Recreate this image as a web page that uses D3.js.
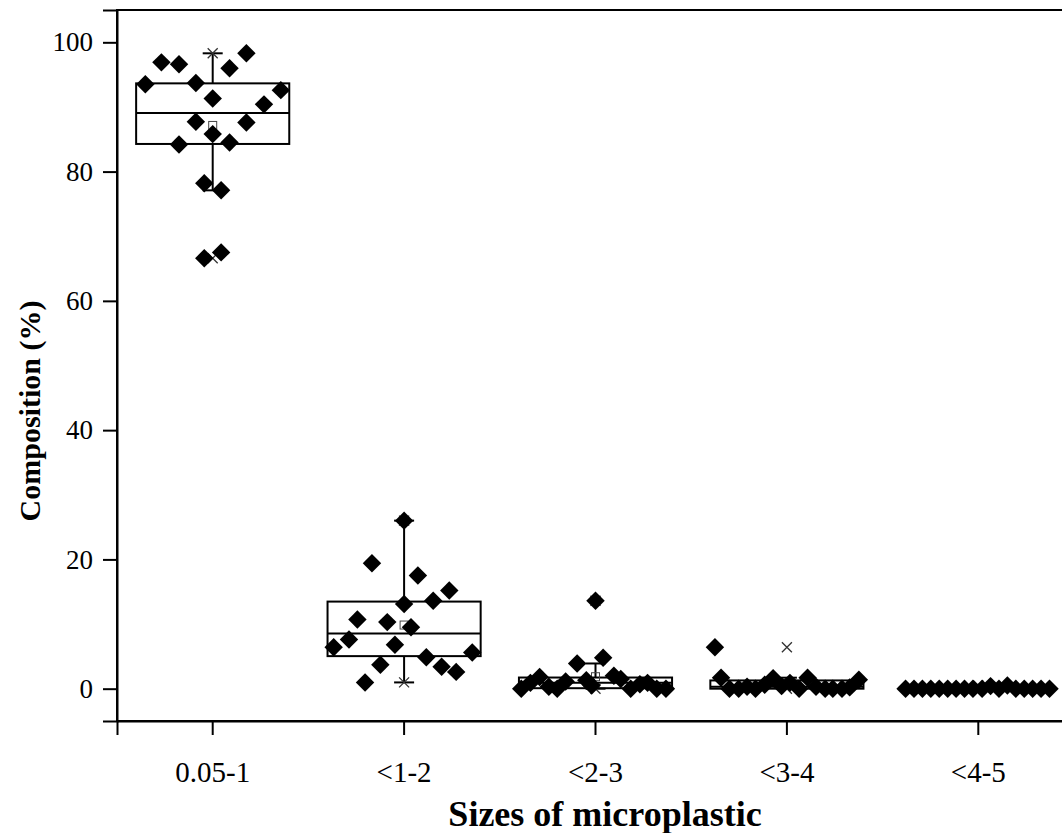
<!DOCTYPE html>
<html>
<head>
<meta charset="utf-8">
<script src="https://cdn.jsdelivr.net/npm/d3@7"></script>
<style>
  html, body { margin: 0; padding: 0; background: #fff; }
  svg { display: block; }
  text { font-family: "Liberation Serif", "Times New Roman", serif; fill: #000; }
</style>
</head>
<body>
<svg id="chart" width="1062" height="833"></svg>
<script>
// ---- data ----
const categories = ["0.05-1", "<1-2", "<2-3", "<3-4", "<4-5"];
const yTicks = [0, 20, 40, 60, 80, 100];

const values1 = [93.5, 96.9, 96.6, 93.7, 91.3, 96.0, 98.3, 87.7, 85.8, 84.2, 84.5, 87.6, 90.4, 92.6, 78.2, 77.1, 66.6, 67.5];
const jitter1 = [-0.88, -0.67, -0.44, -0.22, 0, 0.22, 0.44, -0.22, 0, -0.44, 0.22, 0.44, 0.67, 0.89, -0.11, 0.11, -0.11, 0.11];

const values2 = [26.0, 19.4, 17.5, 15.2, 13.6, 13.1, 10.7, 10.3, 9.5, 7.6, 6.4, 6.8, 5.6, 4.85, 3.7, 3.4, 2.6, 0.97];
const jitter2 = [0, -0.42, 0.18, 0.59, 0.38, 0, -0.61, -0.22, 0.09, -0.72, -0.92, -0.12, 0.89, 0.29, -0.31, 0.49, 0.68, -0.51];

const values3 = [0, 0.9, 1.8, 0.3, 0, 1.1, 3.9, 1.3, 0.5, 13.6, 4.8, 2.0, 1.5, 0, 0.7, 0.9, 0, 0];
const jitter3 = [-0.97, -0.85, -0.73, -0.61, -0.50, -0.39, -0.24, -0.12, -0.05, 0, 0.10, 0.24, 0.33, 0.46, 0.58, 0.68, 0.80, 0.92];

const values4 = [6.4, 1.7, 0, 0, 0.3, 0, 0.6, 1.6, 0.4, 0.9, 0, 1.7, 0.3, 0, 0, 0, 0.2, 1.4];
const jitter4 = [-0.94, -0.86, -0.75, -0.63, -0.52, -0.41, -0.29, -0.18, -0.07, 0.04, 0.16, 0.27, 0.38, 0.50, 0.60, 0.72, 0.82, 0.94];

const values5 = [0, 0, 0, 0, 0, 0, 0, 0, 0, 0, 0.4, 0, 0.5, 0, 0, 0, 0, 0];
const jitter5 = [-0.95, -0.84, -0.73, -0.62, -0.51, -0.40, -0.29, -0.18, -0.07, 0.05, 0.16, 0.27, 0.38, 0.49, 0.60, 0.71, 0.82, 0.93];

const groups = [
  { cat: categories[0], values: values1, jitter: jitter1 },
  { cat: categories[1], values: values2, jitter: jitter2 },
  { cat: categories[2], values: values3, jitter: jitter3 },
  { cat: categories[3], values: values4, jitter: jitter4 },
  { cat: categories[4], values: values5, jitter: jitter5 }
];

(function () {
  const svg = d3.select("#chart");
  const pL = 117, pR = 1074, pT = 10, pB = 721;
  const serif = '"Liberation Serif", "Times New Roman", serif';

  const x = d3.scaleBand().domain(categories).range([pL, pR]).paddingInner(0).paddingOuter(0);
  const y = d3.scaleLinear().domain([-5, 105]).range([pB, pT]);

  const boxW = x.bandwidth() * 0.8;
  const half = boxW / 2;

  // frame
  svg.append("rect")
    .attr("x", pL).attr("y", pT)
    .attr("width", pR - pL).attr("height", pB - pT)
    .attr("fill", "none").attr("stroke", "#000").attr("stroke-width", 2);

  // y axis
  const yAxis = d3.axisLeft(y).tickValues(yTicks).tickSize(14).tickPadding(10).tickFormat(d3.format("d"));
  const gy = svg.append("g").attr("transform", `translate(${pL},0)`).call(yAxis);
  gy.attr("font-family", serif).attr("font-size", 27);
  gy.select(".domain").attr("stroke-width", 2);
  gy.selectAll(".tick line").attr("stroke-width", 2);
  gy.selectAll(".tick text").style("font-size", "27px").style("font-family", serif);

  // x axis
  const xAxis = d3.axisBottom(x).tickSize(14).tickPadding(26);
  const gx = svg.append("g").attr("transform", `translate(0,${pB})`).call(xAxis);
  gx.attr("font-family", serif).attr("font-size", 29);
  gx.select(".domain").attr("stroke-width", 2);
  gx.selectAll(".tick line").attr("stroke-width", 2);
  gx.selectAll(".tick text").style("font-size", "29px").style("font-family", serif);

  // axis titles
  svg.append("text")
    .attr("transform", `translate(40,411) rotate(-90)`)
    .attr("text-anchor", "middle")
    .style("font-family", serif)
    .style("font-size", "30px").style("font-weight", "bold")
    .text("Composition (%)");

  svg.append("text")
    .attr("x", 605).attr("y", 826)
    .attr("text-anchor", "middle")
    .style("font-family", serif)
    .style("font-size", "36px").style("font-weight", "bold")
    .text("Sizes of microplastic");

  // ---- boxes ----
  const boxLayer = svg.append("g");
  groups.forEach(g => {
    const s = g.values.slice().sort(d3.ascending);
    const q1 = d3.quantile(s, 0.25), med = d3.quantile(s, 0.5), q3 = d3.quantile(s, 0.75);
    const iqr = q3 - q1;
    const hiW = d3.max(s.filter(v => v <= q3 + 1.5 * iqr));
    const loW = d3.min(s.filter(v => v >= q1 - 1.5 * iqr));
    const mean = d3.mean(s);
    const mn = d3.min(s), mx = d3.max(s);
    const cx = x(g.cat) + x.bandwidth() / 2;
    const b = boxLayer.append("g").attr("stroke", "#000").attr("fill", "none");

    b.append("line").attr("x1", cx).attr("x2", cx).attr("y1", y(q3)).attr("y2", y(hiW)).attr("stroke-width", 2);
    b.append("line").attr("x1", cx).attr("x2", cx).attr("y1", y(q1)).attr("y2", y(loW)).attr("stroke-width", 2);
    [hiW, loW].forEach(v => {
      b.append("line").attr("x1", cx - 10).attr("x2", cx + 10).attr("y1", y(v)).attr("y2", y(v)).attr("stroke-width", 2);
    });
    b.append("rect").attr("x", cx - half).attr("y", y(q3))
      .attr("width", boxW).attr("height", Math.max(y(q1) - y(q3), 0.5)).attr("stroke-width", 2);
    b.append("line").attr("x1", cx - half).attr("x2", cx + half).attr("y1", y(med)).attr("y2", y(med)).attr("stroke-width", 2);
    b.append("rect").attr("x", cx - 4).attr("y", y(mean) - 4).attr("width", 8).attr("height", 8)
      .attr("stroke", "#444").attr("stroke-width", 1);
    [mn, mx].forEach(v => {
      const yy = y(v);
      b.append("path").attr("d", `M${cx - 5},${yy - 5}L${cx + 5},${yy + 5}M${cx - 5},${yy + 5}L${cx + 5},${yy - 5}`)
        .attr("stroke", "#333").attr("stroke-width", 1.3);
    });
  });

  // ---- points ----
  const sym = d3.symbol().type(d3.symbolSquare).size(170);
  const ptLayer = svg.append("g");
  groups.forEach(g => {
    const cx = x(g.cat) + x.bandwidth() / 2;
    ptLayer.selectAll(null).data(g.values.map((v, i) => ({ v, j: g.jitter[i] })))
      .enter().append("path")
      .attr("d", sym)
      .attr("transform", d => `translate(${cx + d.j * half},${y(d.v)}) rotate(45)`)
      .attr("fill", "#000");
  });
})();
</script>
</body>
</html>
